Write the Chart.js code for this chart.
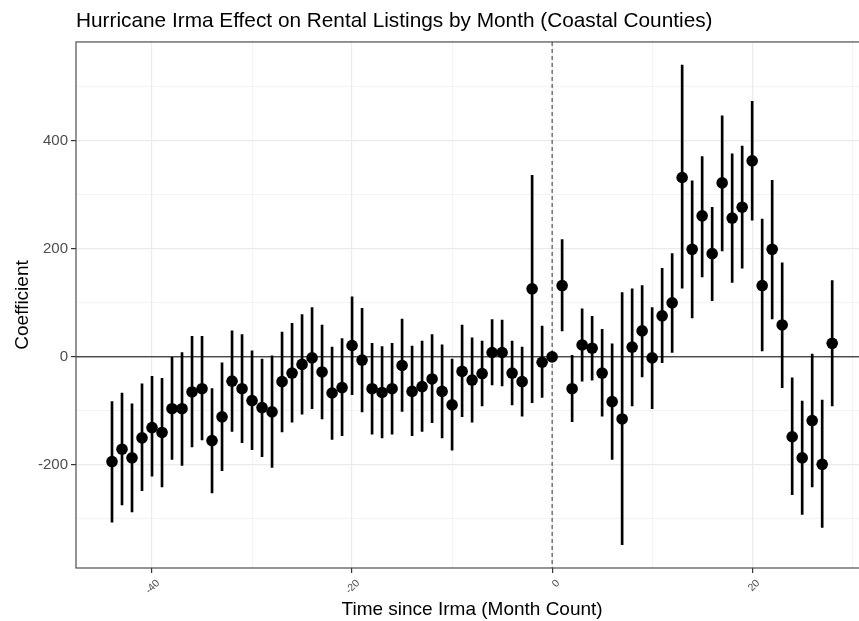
<!DOCTYPE html>
<html>
<head>
<meta charset="utf-8">
<title>Hurricane Irma Effect on Rental Listings</title>
<script src="https://cdn.jsdelivr.net/npm/chart.js@4.4.1/dist/chart.umd.min.js"></script>
<style>
    html, body {
        margin: 0;
        padding: 0;
        background: #ffffff;
        overflow: hidden;
    }
    #wrap {
        width: 874px;
        height: 621px;
    }
</style>
</head>
<body>
<div id="wrap">
    <canvas id="irmaChart" width="874" height="621"></canvas>
</div>
<script>
/*
 * Data
 */

const months = [
    -44, -43, -42, -41, -40, -39, -38, -37, -36, -35, -34, -33, -32, -31, -30,
    -29, -28, -27, -26, -25, -24, -23, -22, -21, -20, -19, -18, -17, -16, -15,
    -14, -13, -12, -11, -10, -9, -8, -7, -6, -5, -4, -3, -2, -1, 0,
    1, 2, 3, 4, 5, 6, 7, 8, 9, 10, 11, 12, 13, 14, 15,
    16, 17, 18, 19, 20, 21, 22, 23, 24, 25, 26, 27, 28
];

const coefficients = [
    -194, -171, -187, -150, -131, -140, -96, -96, -65, -59, -155, -111, -45, -59, -81,
    -94, -102, -46, -30, -14, -2, -28, -67, -57, 21, -6, -59, -66, -59, -16,
    -64, -55, -41, -64, -89, -27, -43, -31, 8, 8, -30, -46, 126, -10, 0,
    132, -59, 22, 16, -30, -83, -115, 18, 48, -2, 76, 100, 332, 199, 261,
    191, 322, 257, 277, 363, 132, 199, 59, -148, -187, -118, -199, 25
];

const ciLower = [
    -306, -274, -287, -248, -221, -241, -190, -201, -167, -154, -252, -211, -138, -159, -172,
    -185, -205, -139, -121, -106, -96, -115, -153, -146, -70, -102, -143, -150, -143, -101,
    -146, -138, -122, -150, -173, -111, -121, -91, -52, -54, -89, -110, -85, -75, null,
    48, -120, -45, -43, -110, -190, -348, -91, -37, -96, -11, 8, 127, 72, 148,
    104, 196, 138, 164, 253, 11, 70, -57, -255, -292, -241, -316, -91
];

const ciUpper = [
    -83, -67, -87, -50, -36, -40, 0, 8, 38, 38, -59, -11, 48, 41, 11,
    -4, 2, 46, 62, 78, 91, 59, 18, 34, 111, 90, 25, 19, 25, 70,
    20, 29, 41, 22, -4, 59, 35, 29, 69, 68, 29, 18, 336, 57, null,
    217, 3, 89, 75, 51, 24, 119, 126, 132, 91, 164, 191, 540, 326, 371,
    277, 446, 376, 390, 473, 255, 327, 174, -39, -82, 5, -80, 141
];

const xGridTicks = [-40, -30, -20, -10, 0, 10, 20, 30];
const xTickLabels = [-40, -20, 0, 20];

const yGridTicks = [-300, -200, -100, 0, 100, 200, 300, 400, 500];
const yTickLabels = [-200, 0, 200, 400];


/*
 * Datasets
 */

const pointData =
    months.map(
        (m, i) => ({ x: m, y: coefficients[i] })
    );

const barData =
    months
        .map(
            (m, i) => ({ x: m, y: [ciLower[i], ciUpper[i]] })
        )
        .filter(
            d => d.y[0] !== null
        );


Chart.defaults.font.family =
    '"Liberation Sans", Arial, Helvetica, sans-serif';


/*
 * Reference lines, panel border, title alignment
 */

const panelPlugin = {

    id: "panelPlugin",

    afterLayout(chart) {
        if (chart.titleBlock) {
            chart.titleBlock.left = chart.chartArea.left;
        }
    },

    beforeDatasetsDraw(chart) {
        const { ctx, chartArea, scales } = chart;
        const y0 = scales.y.getPixelForValue(0);
        const x0 = scales.x.getPixelForValue(0);

        ctx.save();

        ctx.strokeStyle = "#000000";
        ctx.lineWidth = 1;
        ctx.beginPath();
        ctx.moveTo(chartArea.left, y0);
        ctx.lineTo(chartArea.right, y0);
        ctx.stroke();

        ctx.strokeStyle = "#333333";
        ctx.setLineDash([4, 3]);
        ctx.beginPath();
        ctx.moveTo(x0, chartArea.top);
        ctx.lineTo(x0, chartArea.bottom);
        ctx.stroke();

        ctx.restore();
    },

    afterDatasetsDraw(chart) {
        const { ctx, chartArea } = chart;

        ctx.save();
        ctx.strokeStyle = "#4d4d4d";
        ctx.lineWidth = 1.2;
        ctx.strokeRect(
            chartArea.left,
            chartArea.top,
            chartArea.right - chartArea.left,
            chartArea.bottom - chartArea.top
        );
        ctx.restore();
    }

};


/*
 * Chart
 */

new Chart(

    document.getElementById("irmaChart"),

    {

        type: "scatter",

        data: {

            datasets: [

                {
                    type: "scatter",
                    label: "Coefficient",
                    data: pointData,
                    pointRadius: 5.8,
                    pointHoverRadius: 5.8,
                    pointBackgroundColor: "#000000",
                    pointBorderWidth: 0,
                    order: 1
                },

                {
                    type: "bar",
                    label: "95% CI",
                    data: barData,
                    backgroundColor: "#000000",
                    borderWidth: 0,
                    barThickness: 2,
                    order: 2
                }

            ]

        },

        options: {

            responsive: false,
            animation: false,
            devicePixelRatio: 1,

            layout: {
                padding: { left: 0, right: 2, top: 0, bottom: 0 }
            },

            plugins: {

                legend: { display: false },
                tooltip: { enabled: false },

                title: {
                    display: true,
                    text: "Hurricane Irma Effect on Rental Listings by Month (Coastal Counties)",
                    align: "start",
                    color: "#000000",
                    font: { size: 20.8, weight: "normal" },
                    padding: { top: 9, bottom: 8 }
                }

            },

            scales: {

                x: {
                    type: "linear",
                    min: -47.6,
                    max: 31.6,
                    offset: false,
                    afterBuildTicks: scale => {
                        scale.ticks = xGridTicks.map(v => ({ value: v }));
                    },
                    afterFit: scale => {
                        scale.height = 53;
                    },
                    ticks: {
                        autoSkip: false,
                        minRotation: 45,
                        maxRotation: 45,
                        padding: 4,
                        labelOffset: 6,
                        color: "#4d4d4d",
                        font: { size: 10.5 },
                        callback: v => xTickLabels.includes(v) ? String(v) : ""
                    },
                    grid: {
                        offset: false,
                        color: "#ebebeb",
                        lineWidth: ctx => xTickLabels.includes(ctx.tick && ctx.tick.value) ? 1.2 : 0.6,
                        tickLength: 5,
                        tickColor: ctx => xTickLabels.includes(ctx.tick && ctx.tick.value) ? "#333333" : "rgba(0,0,0,0)",
                        tickWidth: 1.2
                    },
                    border: { display: false },
                    title: {
                        display: true,
                        text: "Time since Irma (Month Count)",
                        color: "#000000",
                        font: { size: 19 },
                        padding: { top: 0, bottom: 0 }
                    }
                },

                y: {
                    type: "linear",
                    min: -391,
                    max: 583,
                    beginAtZero: false,
                    afterBuildTicks: scale => {
                        scale.ticks = yGridTicks.map(v => ({ value: v }));
                    },
                    afterFit: scale => {
                        scale.width = 76;
                    },
                    ticks: {
                        autoSkip: false,
                        padding: 3,
                        color: "#4d4d4d",
                        font: { size: 15 },
                        callback: v => yTickLabels.includes(v) ? String(v) : ""
                    },
                    grid: {
                        color: "#ebebeb",
                        lineWidth: ctx => yTickLabels.includes(ctx.tick && ctx.tick.value) ? 1.2 : 0.6,
                        tickLength: 5,
                        tickColor: ctx => yTickLabels.includes(ctx.tick && ctx.tick.value) ? "#333333" : "rgba(0,0,0,0)",
                        tickWidth: 1.2
                    },
                    border: { display: false },
                    title: {
                        display: true,
                        text: "Coefficient",
                        color: "#000000",
                        font: { size: 19 },
                        padding: { top: 11, bottom: 0 }
                    }
                }

            }

        },

        plugins: [panelPlugin]

    }

);
</script>
</body>
</html>
